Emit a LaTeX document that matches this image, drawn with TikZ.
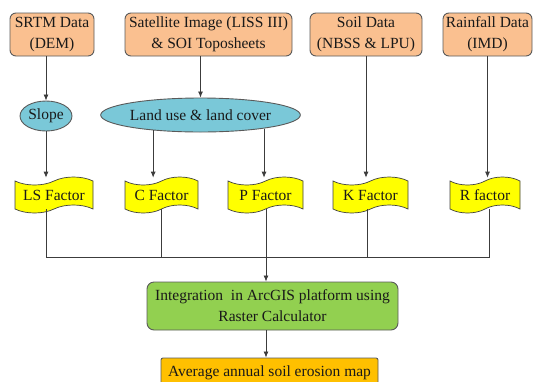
\documentclass[tikz,border=0pt]{standalone}
\usepackage{fontspec}
\setmainfont{Liberation Serif}
\usetikzlibrary{shapes.geometric,shapes.symbols,arrows.meta,calc}
\definecolor{srcfill}{RGB}{250,192,144}
\definecolor{ellfill}{RGB}{122,200,216}
\definecolor{facfill}{RGB}{255,255,0}
\definecolor{intfill}{RGB}{146,208,80}
\definecolor{outfill}{RGB}{255,192,0}
\definecolor{edge}{RGB}{90,90,90}
\definecolor{linec}{RGB}{60,60,60}
\begin{document}
\begin{tikzpicture}[x=1pt,y=-1pt,
  txt/.style={font=\fontsize{15.5}{21}\selectfont, text=black!90, align=center, inner sep=0pt},
  srcbox/.style={txt, draw=edge, line width=0.9pt, fill=srcfill, rounded corners=6pt, minimum height=43pt},
  ellbox/.style={txt, ellipse, draw=edge, line width=0.9pt, fill=ellfill},
  facbox/.style={txt, tape, draw=black!75, line width=0.7pt, fill=facfill, minimum height=36pt, tape bend height=8pt},
  intbox/.style={txt, draw=edge, line width=0.9pt, fill=intfill, rounded corners=7pt},
  outbox/.style={txt, draw=edge, line width=0.9pt, fill=outfill, rounded corners=2pt},
  conn/.style={draw=linec, line width=0.8pt},
  arr/.style={conn, -{Latex[length=6pt,width=5pt]}}
]
\useasboundingbox (0,0) rectangle (535,381);

% sources
\node[srcbox, minimum width=84pt] (srtm) at (52,34.5) {SRTM Data\\(DEM)};
\node[srcbox, minimum width=167pt] (sat) at (208.5,34.5) {Satellite Image (LISS III)\\\& SOI Toposheets};
\node[srcbox, minimum width=112pt] (soil) at (366,34.5) {Soil Data\\(NBSS \& LPU)};
\node[srcbox, minimum width=89pt] (rain) at (487.5,34.5) {Rainfall Data\\(IMD)};

% derived layers
\node[ellbox, minimum width=52pt, minimum height=30pt] (slope) at (46,116) {Slope};
\node[ellbox, minimum width=185pt, minimum height=34pt] (land) at (200.5,115) {Land use \& land cover};

% factors
\node[facbox, minimum width=78pt] (ls) at (54,195) {LS Factor};
\node[facbox, minimum width=73pt] (cf) at (161.5,195) {C Factor};
\node[facbox, minimum width=75pt] (pf) at (265.5,195) {P Factor};
\node[facbox, minimum width=75pt] (kf) at (370.5,195) {K Factor};
\node[facbox, minimum width=70pt] (rf) at (485,195) {R factor};

% integration and output
\node[intbox, minimum width=251pt, minimum height=48pt] (integ) at (272.5,306) {Integration\ \ in ArcGIS platform using\\Raster Calculator};
\node[outbox, minimum width=217pt, minimum height=29pt] (avg) at (269.5,372.5) {Average annual soil erosion map};

% connectors: sources to layers / factors
\draw[arr] (slope.north |- srtm.south) -- (slope.north);
\draw[arr] (land.north |- sat.south) -- (land.north);
\draw[arr] (soil.south) -- ([yshift=3pt]soil.south |- kf.north);
\draw[arr] (rain.south) -- ([yshift=3pt]rain.south |- rf.north);

% layers to factors
\draw[arr] (slope.south) -- ([yshift=3pt]slope.south |- ls.north);
\draw[arr] (land.198) -- ([yshift=3pt]land.198 |- cf.north);
\draw[arr] (land.-12.3) -- ([yshift=3pt]land.-12.3 |- pf.north);

% factors to integration
\coordinate (bus) at (266,257);
\draw[conn] (slope.south |- ls.south) |- (bus);
\draw[conn] (cf.south) |- (bus);
\draw[conn] ([xshift=-3.5pt]kf.south) |- (bus);
\draw[conn] ([xshift=4pt]rf.south) |- (bus);
\draw[conn] (bus |- pf.south) -- (bus);
\draw[arr] (bus) -- (bus |- integ.north);
\draw[arr] (integ.south -| bus) -- (bus |- avg.north);
\end{tikzpicture}
\end{document}
